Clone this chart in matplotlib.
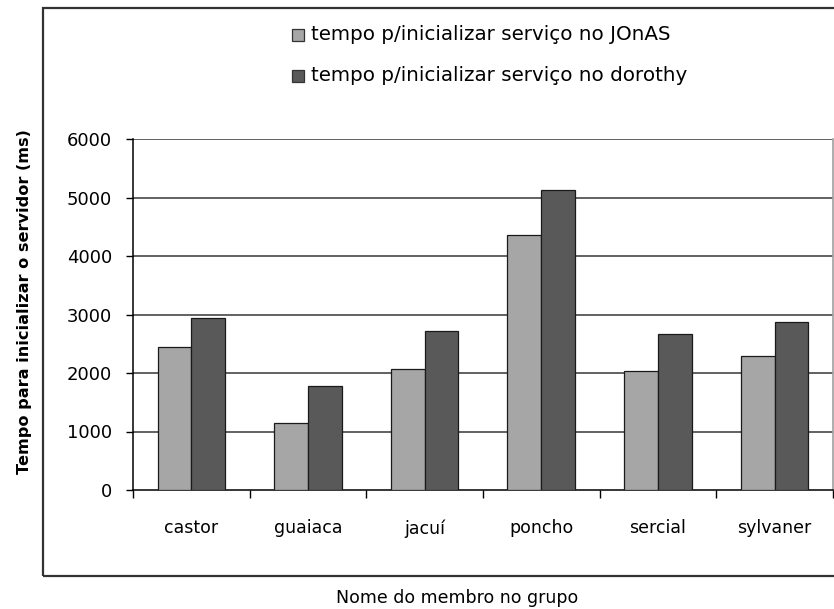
import matplotlib
matplotlib.use("Agg")
import matplotlib.pyplot as plt
import numpy as np
from matplotlib.patches import Rectangle

# Startup times per group member (ms)
members = ["castor", "guaiaca", "jacuí", "poncho", "sercial", "sylvaner"]
jonas_ms = [2440, 1140, 2060, 4360, 2040, 2290]
dorothy_ms = [2935, 1780, 2720, 5130, 2675, 2870]
series_names = ["tempo p/inicializar serviço no JOnAS",
                "tempo p/inicializar serviço no dorothy"]
y_ticks = [0, 1000, 2000, 3000, 4000, 5000, 6000]

plt.rcParams["font.family"] = ["DejaVu Sans"]

W, H = 834, 609
fig = plt.figure(figsize=(W / 100, H / 100), dpi=100)
fig.patch.set_facecolor("white")

def fx(px):
    return px / W

def fy(py):
    return 1 - py / H

# Outer chart frame
frame = Rectangle((fx(43), fy(576)), fx(840) - fx(43), fy(8) - fy(576),
                  transform=fig.transFigure, fill=False, edgecolor="#333333",
                  linewidth=1.6, clip_on=False)
fig.patches.append(frame)

ax = fig.add_axes([fx(133), fy(490), fx(833) - fx(133), fy(139) - fy(490)])

x = np.arange(len(members))
bw = 0.29
light = "#a6a6a6"
dark = "#595959"
ax.bar(x - bw / 2, jonas_ms, width=bw, color=light, edgecolor="#1a1a1a",
       linewidth=0.9, zorder=3, label=series_names[0])
ax.bar(x + bw / 2, dorothy_ms, width=bw, color=dark, edgecolor="#1a1a1a",
       linewidth=0.9, zorder=3, label=series_names[1])

ax.set_xlim(-0.5, len(members) - 0.5)
ax.set_ylim(0, 6000)

# Horizontal gridlines
for v in y_ticks[1:]:
    ax.axhline(v, color="#555555", linewidth=1.3, zorder=1)

ax.set_yticks(y_ticks)
ax.set_yticklabels([str(v) for v in y_ticks])
ax.tick_params(axis="y", direction="out", length=5, width=1, pad=10,
               labelsize=13, colors="black")

ax.set_xticks(np.arange(-0.5, len(members), 1.0))
ax.set_xticklabels([])
ax.tick_params(axis="x", which="major", direction="out", length=5.5, width=1)
ax.set_xticks(x, minor=True)
ax.set_xticklabels(members, minor=True)
ax.tick_params(axis="x", which="minor", length=0, pad=21, labelsize=12.5)

ax.spines["top"].set_visible(False)
ax.spines["right"].set_color("#a0a0a0")
ax.spines["right"].set_linewidth(1.2)
ax.spines["left"].set_color("black")
ax.spines["bottom"].set_color("black")
ax.spines["left"].set_linewidth(1.1)
ax.spines["bottom"].set_linewidth(1.1)

# Axis titles placed in figure coordinates
fig.text(fx(25), fy(302), "Tempo para inicializar o servidor (ms)",
         rotation=90, ha="center", va="center", fontsize=11.6, fontweight="bold")
fig.text(fx(457), fy(598), "Nome do membro no grupo",
         ha="center", va="center", fontsize=12.5)

# Legend entries
for i, (name, col) in enumerate(zip(series_names, [light, dark])):
    cy = [34.5, 75.5][i]
    sq = Rectangle((fx(292), fy(cy + 6)), fx(12), 12 / H,
                   transform=fig.transFigure, facecolor=col,
                   edgecolor="#333333", linewidth=0.9)
    fig.patches.append(sq)
    fig.text(fx(311), fy(cy), name, ha="left", va="center", fontsize=14.3)

fig.savefig("out.png", dpi=100, facecolor="white")
